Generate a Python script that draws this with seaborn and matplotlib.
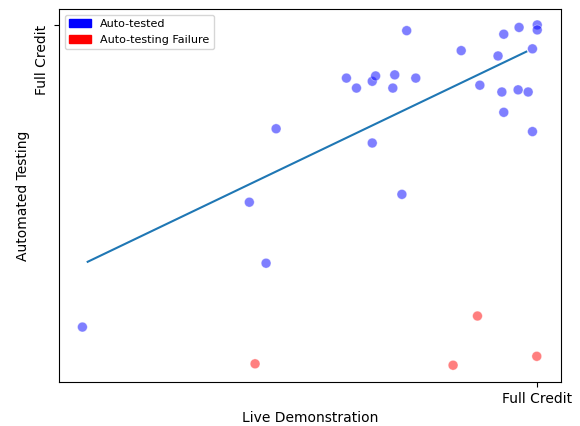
import matplotlib
matplotlib.use("Agg")
import matplotlib.pyplot as plt
import matplotlib.patches as mpatches
import seaborn as sns
import pandas as pd

# scores as fraction of full credit (1.0 = full credit)
demo_tested = [0.049, 0.398, 0.433, 0.454, 0.727, 0.601, 0.622, 0.655, 0.662,
               0.702, 0.698, 0.746, 0.655, 0.717, 0.841, 0.880, 0.918, 0.930,
               0.962, 1.000, 1.000, 0.990, 0.926, 0.960, 0.981, 0.930, 0.990]
auto_tested = [0.154, 0.504, 0.333, 0.710, 0.985, 0.852, 0.824, 0.843, 0.858,
               0.861, 0.824, 0.852, 0.670, 0.526, 0.929, 0.832, 0.914, 0.975,
               0.994, 1.001, 0.987, 0.934, 0.813, 0.819, 0.813, 0.756, 0.702]

demo_failed = [0.410, 0.875, 0.824, 0.999]
auto_failed = [0.051, 0.185, 0.047, 0.072]

trend_x = [0.060, 0.977]
trend_y = [0.337, 0.926]

df = pd.DataFrame({
    "demo": demo_tested + demo_failed,
    "auto": auto_tested + auto_failed,
    "status": ["Auto-tested"] * len(demo_tested) + ["Auto-testing Failure"] * len(demo_failed),
})
palette = {"Auto-tested": "blue", "Auto-testing Failure": "red"}

fig = plt.figure(figsize=(5.8, 4.26), dpi=100)
ax = fig.add_axes([0.1017, 0.1033, 0.865, 0.8756])

sns.scatterplot(data=df, x="demo", y="auto", hue="status", palette=palette,
                alpha=0.5, s=50, linewidth=0.5, edgecolor="white", legend=False, ax=ax)
ax.plot(trend_x, trend_y, color="#1f77b4", linewidth=1.5)

ax.set_xlim(0, 1.049)
ax.set_ylim(0, 1.0457)
ax.set_xticks([1.0])
ax.set_xticklabels(["Full Credit"])
ax.set_yticks([1.0])
ax.set_yticklabels(["Full Credit"], rotation=90, va="top")
ax.set_xlabel("Live Demonstration")
ax.set_ylabel("Automated Testing")

handles = [mpatches.Patch(color="blue", label="Auto-tested"),
           mpatches.Patch(color="red", label="Auto-testing Failure")]
ax.legend(handles=handles, loc="upper left", fontsize=8)

fig.savefig("out.png", dpi=100)
